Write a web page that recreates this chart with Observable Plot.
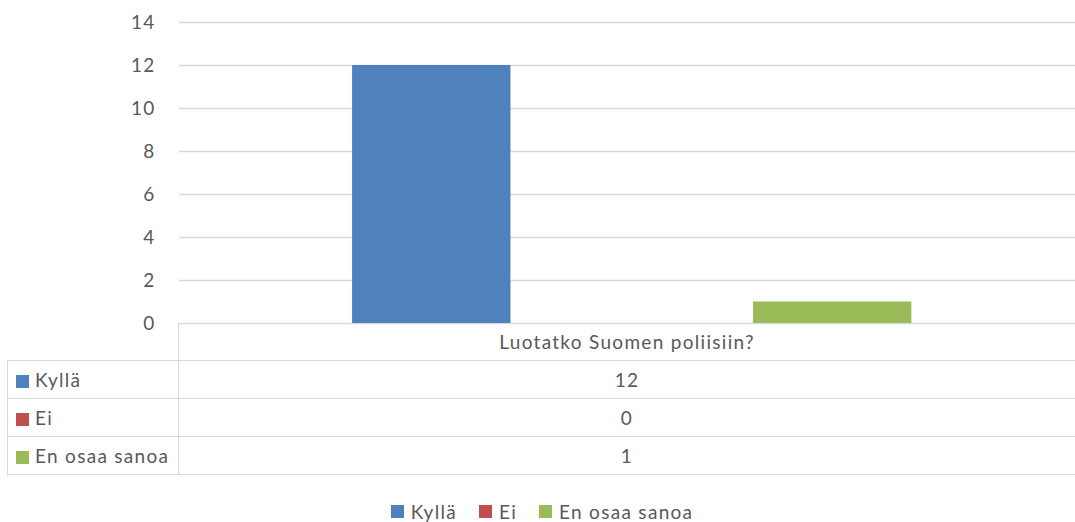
<!DOCTYPE html>
<html>
<head>
<meta charset="utf-8">
<script src="https://cdn.jsdelivr.net/npm/d3@7"></script>
<script src="https://cdn.jsdelivr.net/npm/@observablehq/plot@0.6"></script>
<style>
  html, body { margin: 0; padding: 0; background: #fff; }
  body { width: 1075px; height: 522px; overflow: hidden; font-family: Lato, "Open Sans", sans-serif; color: #595959; letter-spacing: 1.3px; }
  #wrap { position: relative; width: 1075px; height: 522px; }
  #chart { position: absolute; left: 0; top: 0; }
  #chart svg text { letter-spacing: 1.2px; }
  table.dt { position: absolute; left: 7px; top: 323px; border-collapse: collapse; font-size: 19px; color: #595959; }
  table.dt td { padding: 0; height: 37px; border: 1.5px solid #d9d9d9; }
  table.dt td.lab { width: 170px; white-space: nowrap; border-right: 1.5px solid #d9d9d9; }
  table.dt td.val { width: 896px; text-align: center; border-right: none; }
  table.dt tr.head td { height: 37px; }
  table.dt tr.head td.lab { border-top: none; border-left: none; }
  table.dt tr.head td.val { border-top: none; }
  .sw { display: inline-block; width: 13px; height: 13px; margin: 0 6px 0 8px; vertical-align: -1px; }
  #legend { position: absolute; top: 500px; left: 0; width: 1075px; padding-left: 9px; box-sizing: border-box; display: flex; justify-content: center; font-size: 19px; color: #595959; }
  #legend .it { display: flex; align-items: center; margin: 0 11px; }
  #legend .it .sw { margin: 0 7px 0 0; }
</style>
</head>
<body>
<div id="wrap">
  <div id="chart"></div>
  <table class="dt" id="dt"></table>
  <div id="legend"></div>
</div>
<script>
const category = "Luotatko Suomen poliisiin?";
const series = ["Kyllä", "Ei", "En osaa sanoa"];
const values = [12, 0, 1];
const colors = ["#4F81BD", "#C0504D", "#9BBB59"];
const yTicks = [0, 2, 4, 6, 8, 10, 12, 14];

const data = series.map((s, i) => ({ series: s, value: values[i] }));

const plot = Plot.plot({
  width: 1075,
  height: 334,
  marginLeft: 179,
  marginRight: 0,
  marginTop: 22,
  marginBottom: 11,
  style: { fontFamily: "Lato, 'Open Sans', sans-serif", fontSize: "19px", color: "#595959", background: "transparent" },
  x: { domain: series, paddingInner: 0.21, paddingOuter: 0.84, align: 0.514, round: false, axis: null },
  y: { domain: [0, 14], ticks: yTicks, tickSize: 0, tickPadding: 24, label: null, tickFormat: d => String(d) },
  color: { domain: series, range: colors },
  marks: [
    Plot.gridY(yTicks, { stroke: "#d9d9d9", strokeOpacity: 1, strokeWidth: 1.5 }),
    Plot.barY(data, { x: "series", y: "value", fill: "series" }),
    Plot.axisY({ ticks: yTicks, tickSize: 0, tickPadding: 24, fill: "#595959", label: null })
  ]
});
document.getElementById("chart").appendChild(plot);

// data table
const dt = document.getElementById("dt");
const head = document.createElement("tr");
head.className = "head";
head.innerHTML = `<td class="lab"></td><td class="val">${category}</td>`;
dt.appendChild(head);
series.forEach((s, i) => {
  const tr = document.createElement("tr");
  tr.innerHTML = `<td class="lab"><span class="sw" style="background:${colors[i]}"></span>${s}</td><td class="val">${values[i]}</td>`;
  dt.appendChild(tr);
});

// legend
const lg = document.getElementById("legend");
series.forEach((s, i) => {
  const it = document.createElement("div");
  it.className = "it";
  it.innerHTML = `<span class="sw" style="background:${colors[i]}"></span>${s}`;
  lg.appendChild(it);
});
</script>
</body>
</html>
